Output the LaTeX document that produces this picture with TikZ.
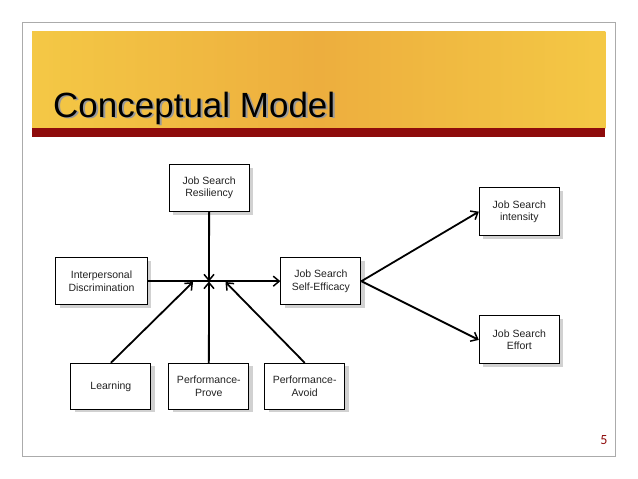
\documentclass[tikz,border=0pt]{standalone}
\usepackage{fontspec}
\setmainfont{Liberation Sans}
\newfontfamily\pagefont{Carlito}
\usetikzlibrary{arrows.meta,shadows}
\definecolor{bandyellow}{HTML}{F4C845}
\definecolor{bandorange}{HTML}{EDAE3E}
\definecolor{barred}{HTML}{8E0B0B}
\definecolor{framegray}{HTML}{ABABAB}
\definecolor{boxtext}{HTML}{222222}
\newcommand{\shadowtext}[1]{\makebox[0pt][l]{\hspace{2pt}\raisebox{-1.5pt}{\color{black!40}#1}}#1}
\begin{document}
\begin{tikzpicture}[x=1pt,y=-1pt]
\tikzstyle{box}=[draw,line width=1pt,fill=white,minimum width=80pt,minimum height=47pt,align=center,
  text=boxtext,font=\fontsize{10.5}{12.3}\selectfont,drop shadow={shadow xshift=4pt,shadow yshift=-3pt,fill=black!18,opacity=1}]
\tikzstyle{link}=[line width=1.8pt,-{Straight Barb[length=6pt,width=10pt,line width=1.5pt]}]
\useasboundingbox (0,0) rectangle (638,479);
% slide frame and title band
\draw[framegray,line width=0.8pt] (22.3,22.7) rectangle (615,456);
\shade[left color=bandyellow,right color=bandyellow,middle color=bandorange] (32,31.7) rectangle (605.3,128.3);
\fill[barred] (32,128.3) rectangle (605.3,136.5);
\node[anchor=base west,inner sep=0pt,font=\fontsize{35}{40}\selectfont] (title) at (53,117) {\shadowtext{Conceptual Model}};
\node[anchor=center,inner sep=0pt,text=barred,font=\pagefont\fontsize{14}{16}\selectfont] (pagenum) at (604,440) {5};
% boxes
\node[box] at (209.2,188) (res) {Job Search\\Resiliency};
\node[box,minimum width=91.6pt] at (101.5,281.2) (disc) {Interpersonal\\Discrimination};
\node[box] at (320.9,281.2) (eff) {Job Search\\Self-Efficacy};
\node[box,minimum height=46pt] at (110.9,386.3) (learn) {Learning};
\node[box,minimum height=46pt] at (208.8,386.3) (prove) {Performance-\\Prove};
\node[box,minimum height=46pt] at (304.7,386.3) (avoid) {Performance-\\Avoid};
\node[box,minimum height=48pt] at (519.3,211.7) (inten) {Job Search\\intensity};
\node[box,minimum height=48pt] at (519.3,339.9) (effort) {Job Search\\Effort};
\coordinate (j) at (209,281.5);
\coordinate (jl) at (193,282);
\coordinate (jr) at (225.5,282);
% arrows
\draw[link] (disc) -- (eff);
\draw[link] (res) -- (j);
\draw[link] (prove) -- (j);
\draw[link] (learn.north) -- (jl);
\draw[link] (avoid.north) -- (jr);
\draw[link] (eff.east) -- (inten.west);
\draw[link] (eff.east) -- (effort.west);
\end{tikzpicture}
\end{document}
